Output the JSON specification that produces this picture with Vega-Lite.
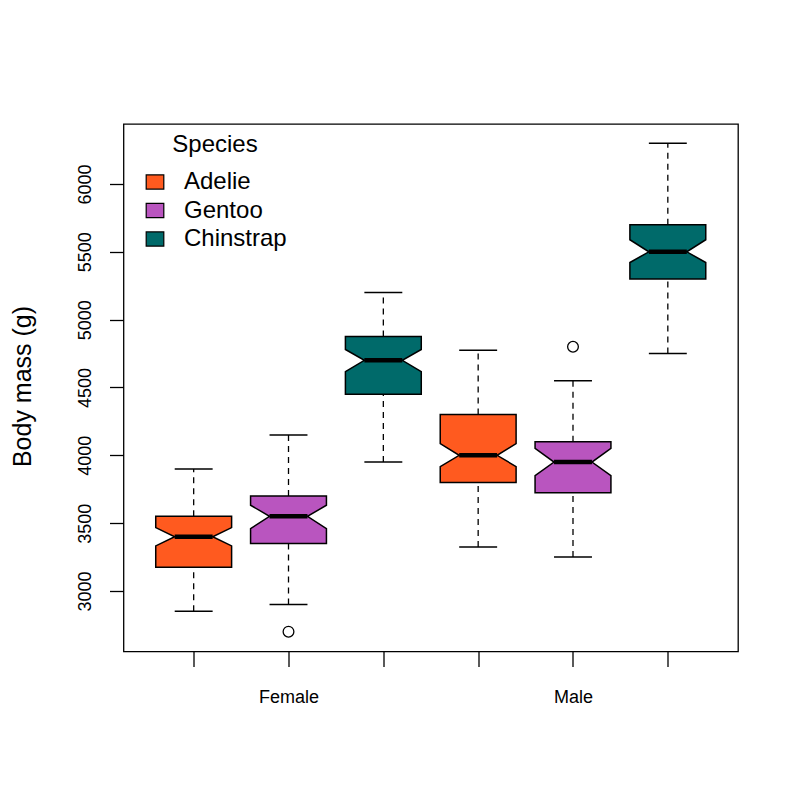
{
  "$schema": "https://vega.github.io/schema/vega-lite/v6.json",
  "width": 614.5,
  "height": 527.5,
  "autosize": {"type": "none"},
  "padding": {"left": 123.5, "top": 124, "right": 50, "bottom": 143.5},
  "background": "white",
  "config": {
    "font": "Liberation Sans",
    "view": {"stroke": "black", "strokeWidth": 1.3},
    "axis": {"grid": false, "domain": false, "tickColor": "black", "tickWidth": 1.3, "labelColor": "black", "titleColor": "black", "labelFont": "Liberation Sans", "titleFont": "Liberation Sans"},
    "legend": {"labelFont": "Liberation Sans", "titleFont": "Liberation Sans"}
  },
  "datasets": {
    "boxes": [
      {"sex": "Female", "species": "Adelie", "lower": 2850, "q1": 3175, "notch_lo": 3332, "median": 3400, "notch_hi": 3467, "q3": 3550, "upper": 3900},
      {"sex": "Female", "species": "Gentoo", "lower": 2900, "q1": 3350, "notch_lo": 3460, "median": 3550, "notch_hi": 3632, "q3": 3700, "upper": 4150},
      {"sex": "Female", "species": "Chinstrap", "lower": 3950, "q1": 4450, "notch_lo": 4617, "median": 4700, "notch_hi": 4780, "q3": 4875, "upper": 5200},
      {"sex": "Male", "species": "Adelie", "lower": 3325, "q1": 3800, "notch_lo": 3917, "median": 4000, "notch_hi": 4086, "q3": 4300, "upper": 4775},
      {"sex": "Male", "species": "Gentoo", "lower": 3250, "q1": 3725, "notch_lo": 3850, "median": 3950, "notch_hi": 4052, "q3": 4100, "upper": 4550},
      {"sex": "Male", "species": "Chinstrap", "lower": 4750, "q1": 5300, "notch_lo": 5421, "median": 5500, "notch_hi": 5589, "q3": 5700, "upper": 6300}
    ],
    "outliers": [
      {"sex": "Female", "species": "Gentoo", "mass": 2700},
      {"sex": "Male", "species": "Gentoo", "mass": 4800}
    ]
  },
  "layer": [
    {
      "data": {"name": "boxes"},
      "transform": [
        {"calculate": "(datum.sex == 'Female' ? 0 : 3) + indexof(['Adelie', 'Gentoo', 'Chinstrap'], datum.species) + 1", "as": "idx"},
        {"calculate": "datum.idx - 0.2", "as": "capL"},
        {"calculate": "datum.idx + 0.2", "as": "capR"}
      ],
      "layer": [
        {
          "mark": {"type": "rule", "color": "black", "strokeWidth": 1.3, "strokeDash": [6, 5]},
          "encoding": {
            "x": {"field": "idx", "type": "quantitative", "title": null, "scale": {"domain": [0.26, 6.74], "nice": false, "zero": false},
              "axis": {"values": [1, 2, 3, 4, 5, 6], "tickSize": 15, "labelExpr": "datum.value == 2 ? 'Female' : datum.value == 5 ? 'Male' : ''", "labelFontSize": 18, "labelPadding": 22, "labelBaseline": "top", "labelAngle": 0, "labelFlush": false, "labelOverlap": false}},
            "y": {"field": "lower", "type": "quantitative", "title": "Body mass (g)", "scale": {"domain": [2554, 6442], "nice": false, "zero": false},
              "axis": {"values": [3000, 3500, 4000, 4500, 5000, 5500, 6000], "format": "d", "tickSize": 14, "labelAngle": -90, "labelAlign": "center", "labelBaseline": "alphabetic", "labelFontSize": 18, "labelPadding": 19, "labelFlush": false, "labelOverlap": false, "titleFontSize": 25, "titleFontWeight": "normal", "titleAngle": -90, "titleAlign": "center", "titleBaseline": "alphabetic", "titleX": -93, "titleY": 262}},
            "y2": {"field": "q1"}
          }
        },
        {
          "mark": {"type": "rule", "color": "black", "strokeWidth": 1.3, "strokeDash": [6, 5]},
          "encoding": {
            "x": {"field": "idx", "type": "quantitative", "title": null, "scale": {"domain": [0.26, 6.74], "nice": false, "zero": false}},
            "y": {"field": "q3", "type": "quantitative", "title": "Body mass (g)", "scale": {"domain": [2554, 6442], "nice": false, "zero": false}},
            "y2": {"field": "upper"}
          }
        },
        {
          "mark": {"type": "rule", "color": "black", "strokeWidth": 1.5},
          "encoding": {
            "x": {"field": "capL", "type": "quantitative", "title": null, "scale": {"domain": [0.26, 6.74], "nice": false, "zero": false}},
            "x2": {"field": "capR"},
            "y": {"field": "lower", "type": "quantitative", "title": "Body mass (g)", "scale": {"domain": [2554, 6442], "nice": false, "zero": false}}
          }
        },
        {
          "mark": {"type": "rule", "color": "black", "strokeWidth": 1.5},
          "encoding": {
            "x": {"field": "capL", "type": "quantitative", "title": null, "scale": {"domain": [0.26, 6.74], "nice": false, "zero": false}},
            "x2": {"field": "capR"},
            "y": {"field": "upper", "type": "quantitative", "title": "Body mass (g)", "scale": {"domain": [2554, 6442], "nice": false, "zero": false}}
          }
        },
        {
          "transform": [
            {"fold": ["q1", "notch_lo", "median", "notch_hi", "q3"], "as": ["key", "v"]},
            {"calculate": "datum.idx - (datum.key == 'median' ? 0.2 : 0.4)", "as": "xl"},
            {"calculate": "datum.idx + (datum.key == 'median' ? 0.2 : 0.4)", "as": "xr"}
          ],
          "mark": {"type": "area", "orient": "horizontal", "stroke": "black", "strokeWidth": 1.5, "opacity": 1, "fillOpacity": 1, "strokeJoin": "miter"},
          "encoding": {
            "y": {"field": "v", "type": "quantitative", "title": "Body mass (g)", "scale": {"domain": [2554, 6442], "nice": false, "zero": false}},
            "x": {"field": "xl", "type": "quantitative", "title": null, "scale": {"domain": [0.26, 6.74], "nice": false, "zero": false}},
            "x2": {"field": "xr"},
            "detail": {"field": "sex", "type": "nominal"},
            "fill": {"field": "species", "type": "nominal",
              "scale": {"domain": ["Adelie", "Gentoo", "Chinstrap"], "range": ["#FF5A1F", "#B955BF", "#006A6A"]},
              "legend": {"title": "Species", "orient": "none", "legendX": 19.5, "legendY": 9, "padding": 0, "titleFontSize": 24, "titleFontWeight": "normal", "titleColor": "black", "titleAnchor": "middle", "titlePadding": 13, "labelFontSize": 24, "labelColor": "black", "labelOffset": 17, "rowPadding": 4.5, "symbolType": "M-1,-0.8L1,-0.8L1,0.8L-1,0.8Z", "symbolSize": 310, "symbolStrokeColor": "black", "symbolStrokeWidth": 1.2, "symbolOpacity": 1, "symbolOffset": 0}}
          }
        },
        {
          "mark": {"type": "rule", "color": "black", "strokeWidth": 4.5, "strokeCap": "butt"},
          "encoding": {
            "x": {"field": "capL", "type": "quantitative", "title": null, "scale": {"domain": [0.26, 6.74], "nice": false, "zero": false}},
            "x2": {"field": "capR"},
            "y": {"field": "median", "type": "quantitative", "title": "Body mass (g)", "scale": {"domain": [2554, 6442], "nice": false, "zero": false}}
          }
        }
      ]
    },
    {
      "data": {"name": "outliers"},
      "transform": [
        {"calculate": "(datum.sex == 'Female' ? 0 : 3) + indexof(['Adelie', 'Gentoo', 'Chinstrap'], datum.species) + 1", "as": "idx"}
      ],
      "mark": {"type": "point", "shape": "circle", "filled": false, "stroke": "black", "strokeWidth": 1.3, "size": 115, "opacity": 1},
      "encoding": {
        "x": {"field": "idx", "type": "quantitative", "title": null, "scale": {"domain": [0.26, 6.74], "nice": false, "zero": false}},
        "y": {"field": "mass", "type": "quantitative", "title": "Body mass (g)", "scale": {"domain": [2554, 6442], "nice": false, "zero": false}}
      }
    }
  ]
}
